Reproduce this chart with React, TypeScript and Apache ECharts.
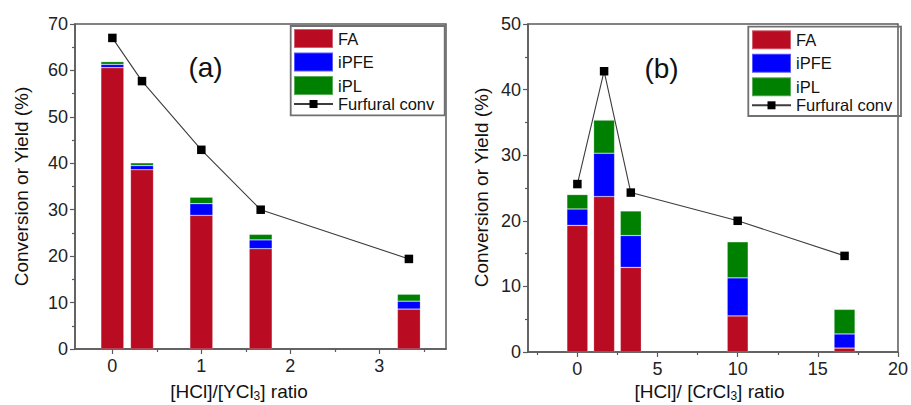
import React, { useEffect, useRef } from "react";
import * as echarts from "echarts";

// ---- Data ----
const xA = [0, 0.333, 1, 1.667, 3.333];
const faA = [60.6, 38.6, 28.8, 21.6, 8.6];
const ipfeA = [0.7, 0.9, 2.5, 1.9, 1.7];
const iplA = [0.6, 0.6, 1.4, 1.2, 1.5];
const convA = [67.0, 57.7, 42.9, 30.0, 19.4];

const xB = [0, 1.667, 3.333, 10, 16.667];
const faB = [19.3, 23.7, 12.9, 5.5, 0.6];
const ipfeB = [2.5, 6.6, 4.85, 5.8, 2.15];
const iplB = [2.2, 5.05, 3.75, 5.5, 3.75];
const convB = [25.6, 42.8, 24.3, 20.0, 14.65];

const xTicksA = [0, 1, 2, 3];
const xMinorA = [0.5, 1.5, 2.5, 3.5];
const xTicksB = [0, 5, 10, 15, 20];
const xMinorB = [-2.5, 2.5, 7.5, 12.5, 17.5];

const seriesNames = ["FA", "iPFE", "iPL", "Furfural conv"];
const FONT = 'Arial, "Liberation Sans", sans-serif';
const RED = "#B90B21";
const BLUE = "#0000FF";
const GREEN = "#008000";
const AXIS = "#5a5a5a";

const zip = (xs: number[], ys: number[]) => xs.map((x, i) => [x, ys[i]]);
// rows as [y, x] so that the stacked dimension (first numeric one) is y
const zipYX = (xs: number[], ys: number[]) => xs.map((x, i) => [ys[i], x]);

function xAxes(gridIndex: number, min: number, max: number, major: number[], minor: number[]) {
  return [
    {
      gridIndex,
      type: "value",
      min,
      max,
      axisLine: { show: true, onZero: false, lineStyle: { color: AXIS, width: 1.5 } },
      axisTick: { show: true, inside: false, length: 5, customValues: major, lineStyle: { color: AXIS, width: 1.2 } },
      axisLabel: { show: true, customValues: major, fontSize: 18, color: "#222", margin: 8, fontFamily: FONT },
      splitLine: { show: false },
    },
    {
      gridIndex,
      type: "value",
      position: "bottom",
      min,
      max,
      axisLine: { show: false, onZero: false },
      axisTick: { show: true, inside: false, length: 3, customValues: minor, lineStyle: { color: AXIS, width: 1.2 } },
      axisLabel: { show: false },
      splitLine: { show: false },
    },
  ];
}

function yAxis(gridIndex: number, max: number) {
  return {
    gridIndex,
    type: "value",
    min: 0,
    max,
    interval: 10,
    axisLine: { show: true, onZero: false, lineStyle: { color: AXIS, width: 1.5 } },
    axisTick: { show: true, inside: false, length: 5, lineStyle: { color: AXIS, width: 1.2 } },
    minorTick: { show: true, splitNumber: 2, length: 3, lineStyle: { color: AXIS, width: 1.2 } },
    axisLabel: { fontSize: 18, color: "#222", margin: 7, fontFamily: FONT },
    splitLine: { show: false },
    minorSplitLine: { show: false },
  };
}

function panelSeries(
  xAxisIndex: number,
  yAxisIndex: number,
  stack: string,
  xs: number[],
  fa: number[],
  ipfe: number[],
  ipl: number[],
  conv: number[],
  barWidth: number
) {
  const bar = (name: string, vals: number[], color: string) => ({
    name,
    type: "bar",
    xAxisIndex,
    yAxisIndex,
    stack,
    barWidth,
    dimensions: [
      { name: "y", type: "float" },
      { name: "x", type: "float" },
    ],
    encode: { x: 1, y: 0 },
    data: zipYX(xs, vals),
    itemStyle: { color, borderColor: "rgba(255,255,255,0.35)", borderWidth: 0.6 },
  });
  return [
    bar(seriesNames[0], fa, RED),
    bar(seriesNames[1], ipfe, BLUE),
    bar(seriesNames[2], ipl, GREEN),
    {
      name: seriesNames[3],
      type: "line",
      xAxisIndex,
      yAxisIndex,
      data: zip(xs, conv),
      symbol: "rect",
      symbolSize: 8.5,
      itemStyle: { color: "#000" },
      lineStyle: { color: "#3c3c3c", width: 1.1 },
      z: 5,
    },
  ];
}

function legends(left: number, top: number) {
  const textStyle = { fontSize: 16.5, color: "#111", lineHeight: 17, fontFamily: FONT };
  return [
    {
      data: seriesNames.slice(0, 3),
      orient: "vertical",
      left,
      top,
      padding: 0,
      itemWidth: 39,
      itemHeight: 19,
      itemGap: 2.5,
      icon: "rect",
      selectedMode: false,
      textStyle,
    },
    {
      data: [seriesNames[3]],
      orient: "vertical",
      left,
      top: top + 67.5,
      padding: 0,
      itemWidth: 39,
      itemHeight: 10,
      selectedMode: false,
      textStyle,
    },
  ];
}

function titleText(x: number, y: number, main: string, sub: string, tail: string, rotate = false) {
  return {
    type: "text",
    x,
    y,
    rotation: rotate ? Math.PI / 2 : 0,
    style: {
      text: rotate ? main : `${main}{s|${sub}}${tail}`,
      fontSize: 19,
      fontFamily: FONT,
      fill: "#111",
      align: "center",
      verticalAlign: "middle",
      rich: { s: { fontSize: 12, fontFamily: FONT, fill: "#111", padding: [10, 0, 0, 0] } },
    },
  };
}

export default function App() {
  const ref = useRef<HTMLDivElement>(null);
  useEffect(() => {
    if (!ref.current) return;
    const chart = echarts.init(ref.current, null, { renderer: "svg" });
    const option: any = {
      animation: false,
      backgroundColor: "#fff",
      textStyle: { fontFamily: FONT },
      grid: [
        { left: 75, top: 24, width: 371, height: 325, show: true, borderColor: AXIS, borderWidth: 1.5 },
        { left: 528, top: 24, width: 375, height: 328, show: true, borderColor: AXIS, borderWidth: 1.5 },
      ],
      xAxis: [...xAxes(0, -0.42, 3.75, xTicksA, xMinorA), ...xAxes(1, -3.08, 20, xTicksB, xMinorB)],
      yAxis: [yAxis(0, 70), yAxis(1, 50)],
      legend: [...legends(293, 28), ...legends(751, 29.3)],
      series: [
        ...panelSeries(0, 0, "a", xA, faA, ipfeA, iplA, convA, 23),
        ...panelSeries(2, 1, "b", xB, faB, ipfeB, iplB, convB, 21),
      ],
      graphic: [
        { type: "rect", shape: { x: 290.7, y: 26, width: 154, height: 89.3 }, style: { fill: "none", stroke: "#707070", lineWidth: 1.8 }, z: 10 },
        { type: "rect", shape: { x: 748.3, y: 26.7, width: 152.7, height: 89.3 }, style: { fill: "none", stroke: "#707070", lineWidth: 1.8 }, z: 10 },
        { type: "text", x: 205.5, y: 67.5, style: { text: "(a)", fontSize: 28, fontFamily: FONT, fill: "#111", align: "center", verticalAlign: "middle" } },
        { type: "text", x: 661.5, y: 68.5, style: { text: "(b)", fontSize: 28, fontFamily: FONT, fill: "#111", align: "center", verticalAlign: "middle" } },
        titleText(21.5, 186.5, "Conversion or Yield (%)", "", "", true),
        titleText(481.5, 187.5, "Conversion or Yield (%)", "", "", true),
        titleText(239, 391, "[HCl]/[YCl", "3", "] ratio"),
        titleText(709.5, 391, "[HCl]/ [CrCl", "3", "] ratio"),
      ],
    };
    chart.setOption(option);
    return () => chart.dispose();
  }, []);
  return (
    <div
      ref={ref}
      style={{ position: "fixed", left: 0, top: 0, width: 911, height: 405, background: "#fff" }}
    />
  );
}
